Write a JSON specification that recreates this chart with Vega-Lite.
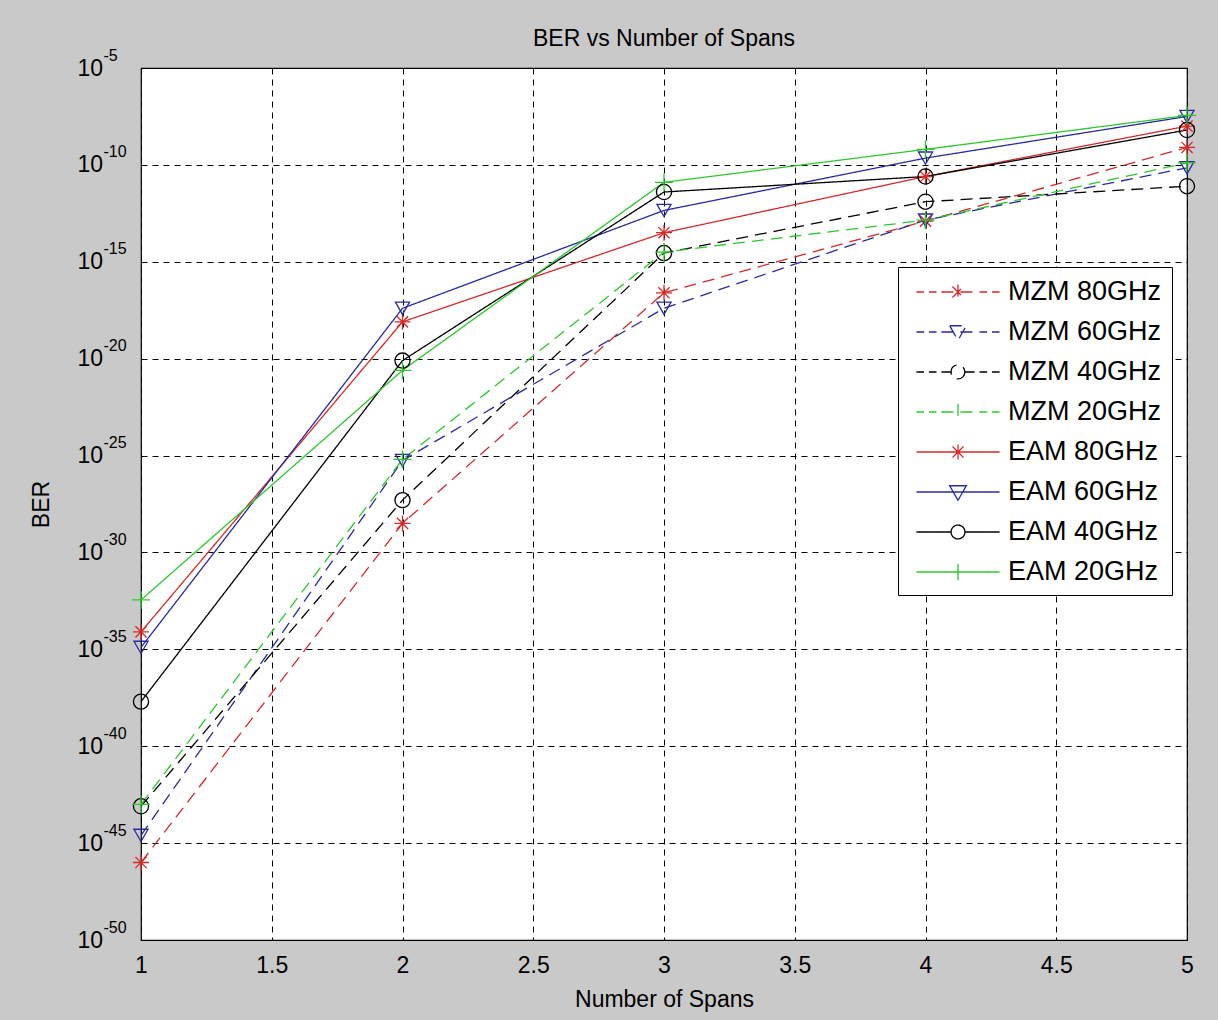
{
  "$schema": "https://vega.github.io/schema/vega-lite/v6.json",
  "autosize": "none",
  "width": 1046,
  "height": 872,
  "padding": {"left": 141, "top": 68, "right": 31, "bottom": 80},
  "background": "#c9c9c9",
  "title": {"text": "BER vs Number of Spans", "font": "Liberation Sans", "fontSize": 23, "fontWeight": "normal", "color": "#000000", "offset": -4},
  "config": {
    "view": {"fill": "#ffffff", "stroke": "#000000", "strokeWidth": 1.2},
    "axis": {"labelFont": "Liberation Sans", "titleFont": "Liberation Sans", "labelColor": "#000000", "titleColor": "#000000", "titleFontWeight": "normal", "domain": false, "ticks": false, "grid": true, "gridColor": "#000000", "gridOpacity": 1, "gridDash": [6, 5], "gridWidth": 1, "labelFlush": false}
  },
  "datasets": {
    "ber": [
      {"series": "MZM 80GHz", "spans": 1, "ber": 1e-46},
      {"series": "MZM 80GHz", "spans": 2, "ber": 3.16e-29},
      {"series": "MZM 80GHz", "spans": 3, "ber": 2.51e-17},
      {"series": "MZM 80GHz", "spans": 4, "ber": 1.26e-13},
      {"series": "MZM 80GHz", "spans": 5, "ber": 7.94e-10},
      {"series": "MZM 60GHz", "spans": 1, "ber": 2.51e-45},
      {"series": "MZM 60GHz", "spans": 2, "ber": 5.62e-26},
      {"series": "MZM 60GHz", "spans": 3, "ber": 3.98e-18},
      {"series": "MZM 60GHz", "spans": 4, "ber": 1.41e-13},
      {"series": "MZM 60GHz", "spans": 5, "ber": 7.08e-11},
      {"series": "MZM 40GHz", "spans": 1, "ber": 7.94e-44},
      {"series": "MZM 40GHz", "spans": 2, "ber": 5.01e-28},
      {"series": "MZM 40GHz", "spans": 3, "ber": 2.82e-15},
      {"series": "MZM 40GHz", "spans": 4, "ber": 1.26e-12},
      {"series": "MZM 40GHz", "spans": 5, "ber": 7.94e-12},
      {"series": "MZM 20GHz", "spans": 1, "ber": 1e-43},
      {"series": "MZM 20GHz", "spans": 2, "ber": 6.31e-26},
      {"series": "MZM 20GHz", "spans": 3, "ber": 3.16e-15},
      {"series": "MZM 20GHz", "spans": 4, "ber": 1.41e-13},
      {"series": "MZM 20GHz", "spans": 5, "ber": 1.26e-10},
      {"series": "EAM 80GHz", "spans": 1, "ber": 7.94e-35},
      {"series": "EAM 80GHz", "spans": 2, "ber": 7.94e-19},
      {"series": "EAM 80GHz", "spans": 3, "ber": 3.16e-14},
      {"series": "EAM 80GHz", "spans": 4, "ber": 2.51e-11},
      {"series": "EAM 80GHz", "spans": 5, "ber": 1e-8},
      {"series": "EAM 60GHz", "spans": 1, "ber": 1.26e-35},
      {"series": "EAM 60GHz", "spans": 2, "ber": 3.98e-18},
      {"series": "EAM 60GHz", "spans": 3, "ber": 4.47e-13},
      {"series": "EAM 60GHz", "spans": 4, "ber": 2.24e-10},
      {"series": "EAM 60GHz", "spans": 5, "ber": 3.16e-8},
      {"series": "EAM 40GHz", "spans": 1, "ber": 2e-38},
      {"series": "EAM 40GHz", "spans": 2, "ber": 7.94e-21},
      {"series": "EAM 40GHz", "spans": 3, "ber": 3.98e-12},
      {"series": "EAM 40GHz", "spans": 4, "ber": 2.51e-11},
      {"series": "EAM 40GHz", "spans": 5, "ber": 6.31e-9},
      {"series": "EAM 20GHz", "spans": 1, "ber": 3.55e-33},
      {"series": "EAM 20GHz", "spans": 2, "ber": 2.51e-21},
      {"series": "EAM 20GHz", "spans": 3, "ber": 1.26e-11},
      {"series": "EAM 20GHz", "spans": 4, "ber": 6.31e-10},
      {"series": "EAM 20GHz", "spans": 5, "ber": 3.55e-8}
    ]
  },
  "data": {"name": "ber"},
  "resolve": {"scale": {"y": "independent"}, "axis": {"y": "independent"}},
  "layer": [
    {
      "encoding": {
        "x": {"field": "spans", "type": "quantitative", "scale": {"domain": [1, 5], "nice": false, "zero": false},
          "axis": {"values": [1, 1.5, 2, 2.5, 3, 3.5, 4, 4.5, 5], "format": "~g", "labelFontSize": 23, "labelPadding": 14, "title": "Number of Spans", "titleFontSize": 23, "titlePadding": 11}},
        "y": {"field": "ber", "type": "quantitative", "scale": {"type": "log", "domain": [1e-50, 1e-5], "nice": false},
          "axis": {"orient": "left", "values": [1e-50, 1e-45, 1e-40, 1e-35, 1e-30, 1e-25, 1e-20, 1e-15, 1e-10, 1e-5],
            "labelExpr": "'10'", "labelFontSize": 23, "labelAlign": "left", "labelPadding": 64, "title": "BER", "titleFontSize": 23, "titlePadding": 24}}
      },
      "layer": [
        {
          "mark": {"type": "line", "strokeWidth": 1.3},
          "encoding": {
            "color": {"field": "series", "type": "nominal",
              "scale": {"domain": ["MZM 80GHz", "MZM 60GHz", "MZM 40GHz", "MZM 20GHz", "EAM 80GHz", "EAM 60GHz", "EAM 40GHz", "EAM 20GHz"],
                "range": ["#d42a2a", "#2a2aa0", "#000000", "#2ec62e", "#d42a2a", "#2a2aa0", "#000000", "#2ec62e"]}},
            "strokeDash": {"field": "series", "type": "nominal", "legend": null,
              "scale": {"domain": ["MZM 80GHz", "MZM 60GHz", "MZM 40GHz", "MZM 20GHz", "EAM 80GHz", "EAM 60GHz", "EAM 40GHz", "EAM 20GHz"],
                "range": [[12, 7], [12, 7], [12, 7], [12, 7], [1, 0], [1, 0], [1, 0], [1, 0]]}}
          }
        },
        {
          "transform": [{"filter": "indexof(datum.series, '80GHz') >= 0"}],
          "mark": {"type": "point", "filled": false, "strokeWidth": 1.3, "size": 256, "shape": "M0,-1L0,1M-1,0L1,0M-0.7,-0.7L0.7,0.7M-0.7,0.7L0.7,-0.7", "opacity": 1},
          "encoding": {"color": {"field": "series", "type": "nominal"}}
        },
        {
          "transform": [{"filter": "indexof(datum.series, '60GHz') >= 0"}],
          "mark": {"type": "point", "filled": false, "strokeWidth": 1.3, "size": 200, "shape": "triangle-down", "opacity": 1},
          "encoding": {"color": {"field": "series", "type": "nominal"}}
        },
        {
          "transform": [{"filter": "indexof(datum.series, '40GHz') >= 0"}],
          "mark": {"type": "point", "filled": false, "strokeWidth": 1.3, "size": 230, "shape": "circle", "opacity": 1},
          "encoding": {"color": {"field": "series", "type": "nominal"}}
        },
        {
          "transform": [{"filter": "indexof(datum.series, '20GHz') >= 0"}],
          "mark": {"type": "point", "filled": false, "strokeWidth": 1.3, "size": 324, "shape": "M-1,0L1,0M0,-1L0,1", "opacity": 1},
          "encoding": {"color": {"field": "series", "type": "nominal"}}
        },
        {
          "transform": [{"filter": "datum.spans > 100"}],
          "mark": {"type": "point", "filled": false, "strokeWidth": 1.3, "size": 768, "opacity": 1},
          "encoding": {
            "color": {"field": "series", "type": "nominal",
              "legend": {"title": null, "orient": "none", "legendX": 757, "legendY": 199, "fillColor": "#ffffff", "strokeColor": "#000000", "padding": 10, "labelFont": "Liberation Sans", "labelFontSize": 27, "labelColor": "#000000", "symbolSize": 768, "symbolStrokeWidth": 1.3, "symbolOffset": 35, "labelOffset": 35, "rowPadding": 12}},
            "shape": {"field": "series", "type": "nominal",
              "scale": {"domain": ["MZM 80GHz", "MZM 60GHz", "MZM 40GHz", "MZM 20GHz", "EAM 80GHz", "EAM 60GHz", "EAM 40GHz", "EAM 20GHz"],
                "range": [
                  "M-3,0L-2.45,0M-2.1,0L-1.55,0M-1.2,0L1.2,0M1.55,0L2.1,0M2.45,0L3,0M0,-0.55L0,0.55M-0.4,-0.4L0.4,0.4M-0.4,0.4L0.4,-0.4",
                  "M-3,0L-2.45,0M-2.1,0L-1.55,0M-1.2,0L1.2,0M1.55,0L2.1,0M2.45,0L3,0M-0.6,-0.45L0.6,-0.45L0,0.6Z",
                  "M-3,0L-2.45,0M-2.1,0L-1.55,0M-1.2,0L-0.5,0M0.5,0L1.2,0M1.55,0L2.1,0M2.45,0L3,0M0.5,0A0.5,0.5,0,1,1,-0.5,0A0.5,0.5,0,1,1,0.5,0",
                  "M-3,0L-2.45,0M-2.1,0L-1.55,0M-1.2,0L1.2,0M1.55,0L2.1,0M2.45,0L3,0M0,-0.6L0,0.6",
                  "M-3,0L3,0M0,-0.55L0,0.55M-0.4,-0.4L0.4,0.4M-0.4,0.4L0.4,-0.4",
                  "M-3,0L3,0M-0.6,-0.45L0.6,-0.45L0,0.6Z",
                  "M-3,0L-0.5,0M0.5,0L3,0M0.5,0A0.5,0.5,0,1,1,-0.5,0A0.5,0.5,0,1,1,0.5,0",
                  "M-3,0L3,0M0,-0.6L0,0.6"
                ]}}
          }
        }
      ]
    },
    {
      "transform": [{"filter": "datum.spans > 100"}],
      "mark": {"type": "point", "opacity": 0},
      "encoding": {
        "y": {"field": "ber", "type": "quantitative", "scale": {"type": "log", "domain": [1e-50, 1e-5], "nice": false},
          "axis": {"orient": "left", "values": [1e-50, 1e-45, 1e-40, 1e-35, 1e-30, 1e-25, 1e-20, 1e-15, 1e-10, 1e-5], "grid": false,
            "labelExpr": "'-' + format(-round(log(datum.value)/LN10), 'd')", "labelFontSize": 16, "labelAlign": "left", "labelPadding": 38, "labelOffset": -13, "title": null}}
      }
    }
  ]
}
